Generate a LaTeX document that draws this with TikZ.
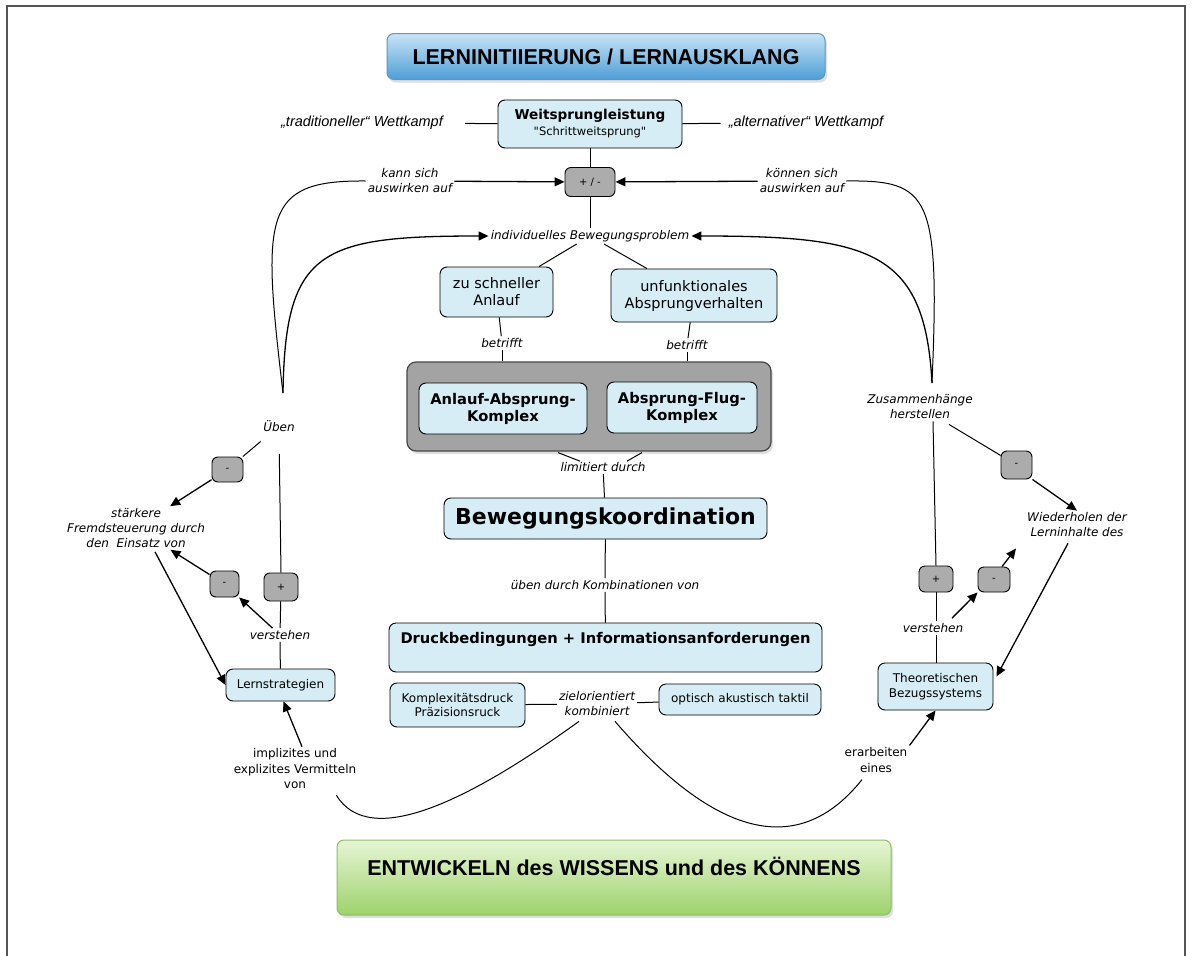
\documentclass[tikz,border=0pt]{standalone}
\usepackage{fontspec}
\newfontfamily\dv{DejaVu Sans}
\newfontfamily\ar{Liberation Sans}
\usetikzlibrary{arrows.meta,shadows,calc}
\definecolor{cbox}{RGB}{214,237,245}
\definecolor{pmgray}{RGB}{172,172,172}
\definecolor{grpgray}{RGB}{163,163,163}
\definecolor{grpline}{RGB}{70,70,70}
\definecolor{titletop}{RGB}{200,228,247}
\definecolor{titlebot}{RGB}{78,158,214}
\definecolor{titleline}{RGB}{95,150,195}
\definecolor{greentop}{RGB}{230,245,212}
\definecolor{greenbot}{RGB}{158,210,108}
\definecolor{greenline}{RGB}{140,190,100}
\definecolor{framecol}{RGB}{85,85,85}
\tikzset{
  concept/.style={draw=black, line width=0.9pt, rounded corners=7pt, fill=cbox,
    font=\dv\fontsize{14.5}{17}\selectfont, align=center, inner sep=0pt},
  small/.style={font=\dv\fontsize{12}{14.5}\selectfont},
  bold/.style={font=\dv\bfseries\fontsize{14.7}{17}\selectfont},
  lab/.style={font=\dv\itshape\fontsize{12}{15}\selectfont, align=center, inner sep=2pt},
  txt/.style={font=\dv\fontsize{12}{15.5}\selectfont, align=center, inner sep=2pt},
  wk/.style={font=\ar\itshape\fontsize{14.5}{17}\selectfont, inner sep=2pt},
  pm/.style={draw=black, fill=pmgray, rounded corners=6pt, line width=0.9pt,
    font=\dv\fontsize{10}{12}\selectfont, inner sep=0pt},
  conn/.style={line width=1pt},
  arr/.style={line width=1.3pt, -{Triangle[length=10pt,width=9pt]}},
  bigbox/.style={rounded corners=7pt, line width=1pt, align=center, inner sep=0pt,
    drop shadow={opacity=0.25, shadow xshift=2pt, shadow yshift=-3pt},
    font=\ar\bfseries\fontsize{21.5}{24}\selectfont}
}
\begin{document}
\begin{tikzpicture}[x=1pt,y=-1pt]
\useasboundingbox (0,0) rectangle (1192,956);
\fill[white] (0,0) rectangle (1192,956);
\draw[framecol, line width=2pt] (7,958) -- (7,6) -- (1185,6) -- (1185,958);

% top title
\node[bigbox, draw=titleline, top color=titletop, bottom color=titlebot,
  minimum width=438, minimum height=46] (title) at (606,56.5) {LERNINITIIERUNG / LERNAUSKLANG};

% Weitsprungleistung
\node[concept, minimum width=184, minimum height=48] (weit) at (590,124)
  {{\bfseries\fontsize{13.6}{16}\selectfont Weitsprungleistung}\\[-1pt]{\fontsize{11.5}{14}\selectfont "Schrittweitsprung"}};
\node[wk] (trad) at (362,123) {„traditioneller“ Wettkampf};
\node[wk] (alt) at (806,123) {„alternativer“ Wettkampf};
\draw[conn, shorten <=20pt] (trad) -- (weit);
\draw[conn, shorten >=6pt] (weit) -- (alt);

\node[pm, minimum width=50, minimum height=29] (pm) at (590,182) {+ / -};
\node[lab] (kann) at (410,181) {kann sich\\auswirken auf};
\node[lab] (konn) at (802,181) {können sich\\auswirken auf};
\node[lab] (indiv) at (590,236) {individuelles Bewegungsproblem};
\draw[conn] (weit) -- (pm);
\draw[conn] (pm) -- (indiv);
\draw[arr] (kann) -- (pm);
\draw[arr] (konn) -- (pm);

% problems
\node[concept, minimum width=113, minimum height=50] (zu) at (496.5,292) {zu schneller\\Anlauf};
\node[concept, minimum width=166, minimum height=53] (unf) at (694,295.5) {unfunktionales\\Absprungverhalten};
\draw[conn] (indiv) -- (zu);
\draw[conn] (indiv) -- (unf);
\node[lab] (bet1) at (502,343) {betrifft};
\node[lab] (bet2) at (687,345) {betrifft};

% group box
\node[draw=grpline, fill=grpgray, line width=1.2pt, rounded corners=9pt,
  drop shadow={opacity=0.25, shadow xshift=2pt, shadow yshift=-3pt},
  minimum width=364, minimum height=89] (grp) at (589,406.5) {};
\node[concept, bold, minimum width=168, minimum height=51] (aak) at (503,408.5) {Anlauf-Absprung-\\Komplex};
\node[concept, bold, minimum width=150, minimum height=51] (afk) at (682,407.5) {Absprung-Flug-\\Komplex};
\draw[conn] (zu) -- (bet1);
\draw[conn] (bet1) -- (bet1 |- grp.north);
\draw[conn] (unf) -- (bet2);
\draw[conn] (bet2) -- (bet2 |- grp.north);

\node[lab] (lim) at (603,467) {limitiert durch};
\draw[conn] ($(grp.south)+(-31,1)$) -- ($(lim.north)+(-23,1)$);
\draw[conn] ($(grp.south)+(53,1)$) -- ($(lim.north)+(24,1)$);

\node[concept, font=\dv\bfseries\fontsize{22}{26}\selectfont, minimum width=323, minimum height=41] (bew) at (605.5,518.5) {Bewegungskoordination};
\draw[conn] (lim) -- (bew);
\node[lab] (ueb) at (605,585) {üben durch Kombinationen von};
\draw[conn] (bew) -- (ueb);
\node[concept, bold, text depth=20pt, minimum width=433, minimum height=49] (druck) at (605.5,647.5) {Druckbedingungen + Informationsanforderungen};
\draw[conn] (ueb) -- (druck);

\node[concept, small, minimum width=135, minimum height=44] (komp) at (457.5,705) {Komplexitätsdruck\\Präzisionsruck};
\node[lab] (ziel) at (597,704) {zielorientiert\\kombiniert};
\node[concept, small, minimum width=162, minimum height=31] (opt) at (740,699.5) {optisch akustisch taktil};
\draw[conn] (komp) -- (ziel);
\draw[conn] (ziel) -- (opt);

% left side
\node[lab] (uben) at (279,426) {Üben};
\coordinate (ubt) at (283,393);
\draw[conn] (ubt) .. controls (262,215) and (262,180) .. (kann.west);
\draw[arr] (ubt) .. controls (285,250) and (320,236) .. (indiv.west);
\node[pm, minimum width=31, minimum height=25] (m1) at (227.5,469.5) {-};
\node[lab] (staerk) at (136,528) {stärkere\\Fremdsteuerung durch\\den\ \ Einsatz von};
\node[pm, minimum width=34, minimum height=28] (p1) at (281,587) {+};
\node[pm, minimum width=29, minimum height=26] (m2) at (224.5,584) {-};
\node[lab] (v1) at (280,635) {verstehen};
\node[concept, small, minimum width=109, minimum height=32] (lern) at (280.5,685) {Lernstrategien};
\node[txt] (impl) at (295,769) {implizites und\\explizites Vermitteln\\von};
\draw[conn, shorten <=12pt] (uben) -- (m1);
\draw[arr] (m1) -- (staerk);
\draw[conn, shorten <=20pt] (uben.south) -- (p1.north);
\draw[conn] (p1) -- (v1);
\draw[arr] (v1) -- (m2);
\draw[arr] (m2) -- (staerk);
\draw[conn] (v1) -- (lern);
\draw[arr] ($(staerk.south)+(19,2)$) -- (lern.west);
\draw[arr] ($(impl.north)+(7,0)$) -- ($(lern.south)+(3,0)$);

% right side
\node[lab] (zus) at (920,407) {Zusammenhänge\\herstellen};
\coordinate (zst) at (932,383);
\draw[conn] (zst) .. controls (940,195) and (930,180) .. (konn.east);
\draw[arr] (zst) .. controls (925,250) and (870,236) .. (indiv.east);
\node[pm, minimum width=34, minimum height=26] (p2) at (936,579) {+};
\node[pm, minimum width=32, minimum height=25] (m3) at (994,579.5) {-};
\node[pm, minimum width=31, minimum height=28] (m4) at (1016.5,465) {-};
\node[lab] (wied) at (1077,525) {Wiederholen der\\Lerninhalte des};
\node[lab] (v2) at (933,628) {verstehen};
\node[concept, small, minimum width=115, minimum height=47] (theo) at (935.5,686.5) {Theoretischen\\Bezugssystems};
\node[txt] (erarb) at (876,760) {erarbeiten\\eines};
\draw[conn] ($(zus.south)+(13,0)$) -- (p2.north);
\draw[conn, shorten <=6pt] (zus) -- (m4);
\draw[arr] (m4.south east) -- (wied.north);
\draw[conn] (p2.south) -- (p2.south |- v2.north);
\draw[conn] (v2.south -| p2.south) -- (theo.north -| p2.south);
\draw[arr] ($(v2.north)+(19,-3)$) -- (m3.south west);
\draw[arr] ($(m3.north)+(8,0)$) -- ++(14,-18);
\draw[arr] ($(wied.south)+(-9,4)$) -- ($(theo.east)+(3,-10)$);
\draw[arr] (erarb.north east) -- (theo.south);

% bottom
\node[bigbox, draw=greenline, top color=greentop, bottom color=greenbot,
  text height=16pt, text depth=21pt,
  minimum width=554, minimum height=75] (entw) at (614,877.5) {ENTWICKELN des WISSENS und des KÖNNENS};
\draw[conn] ($(ziel.south)+(-18,3)$) .. controls (470,800) and (370,850) .. ($(impl.south east)+(-22,4)$);
\draw[conn] ($(ziel.south)+(18,3)$) .. controls (700,820) and (790,870) .. ($(erarb.south)+(-14,5)$);
\end{tikzpicture}
\end{document}
